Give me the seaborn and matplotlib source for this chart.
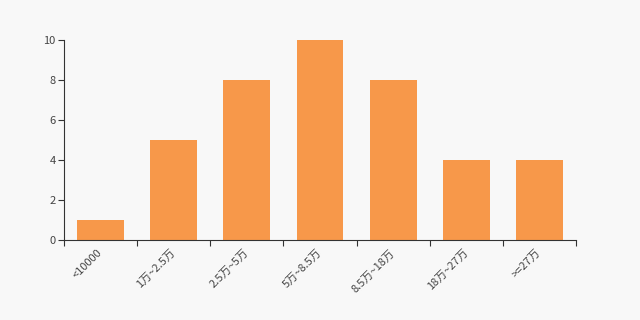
import matplotlib
matplotlib.use("Agg")
import matplotlib.pyplot as plt
import seaborn as sns
import numpy as np

categories = ["<10000", "1万~2.5万", "2.5万~5万", "5万~8.5万", "8.5万~18万", "18万~27万", ">=27万"]
values = [1, 5, 8, 10, 8, 4, 4]
y_ticks = [0, 2, 4, 6, 8, 10]

sns.set_style("white")
plt.rcParams['font.family'] = ['Noto Sans CJK SC', 'DejaVu Sans']

bg = "#f8f8f8"
fig = plt.figure(figsize=(6.4, 3.2), dpi=100, facecolor=bg)
ax = fig.add_axes([0.1, 0.25, 0.8, 0.625])
ax.set_facecolor(bg)

sns.barplot(x=categories, y=values, color="#f7984a", saturation=1, width=0.64, linewidth=0, ax=ax)

ax.set_xlim(-0.5, len(categories) - 0.5)
ax.set_ylim(0, 10)
ax.set_yticks(y_ticks)
ax.set_yticklabels([str(v) for v in y_ticks], fontsize=8, color="#444444")

ax.set_xticks(range(len(categories)))
ax.set_xticklabels(categories, rotation=45, ha="right", va="center", rotation_mode="anchor", fontsize=8, color="#444444")
ax.tick_params(axis="x", which="major", bottom=True, length=0, pad=8)
ax.set_xticks(np.arange(-0.5, len(categories), 1.0), minor=True)
ax.tick_params(axis="x", which="minor", bottom=True, length=4, color="#333333", width=0.8)
ax.tick_params(axis="y", left=True, length=4, color="#333333", width=0.8, pad=2)

for s in ["top", "right"]:
    ax.spines[s].set_visible(False)
for s in ["left", "bottom"]:
    ax.spines[s].set_color("#333333")
    ax.spines[s].set_linewidth(0.8)

ax.set_xlabel("")
ax.set_ylabel("")

fig.savefig("out.png", dpi=100, facecolor=bg)
